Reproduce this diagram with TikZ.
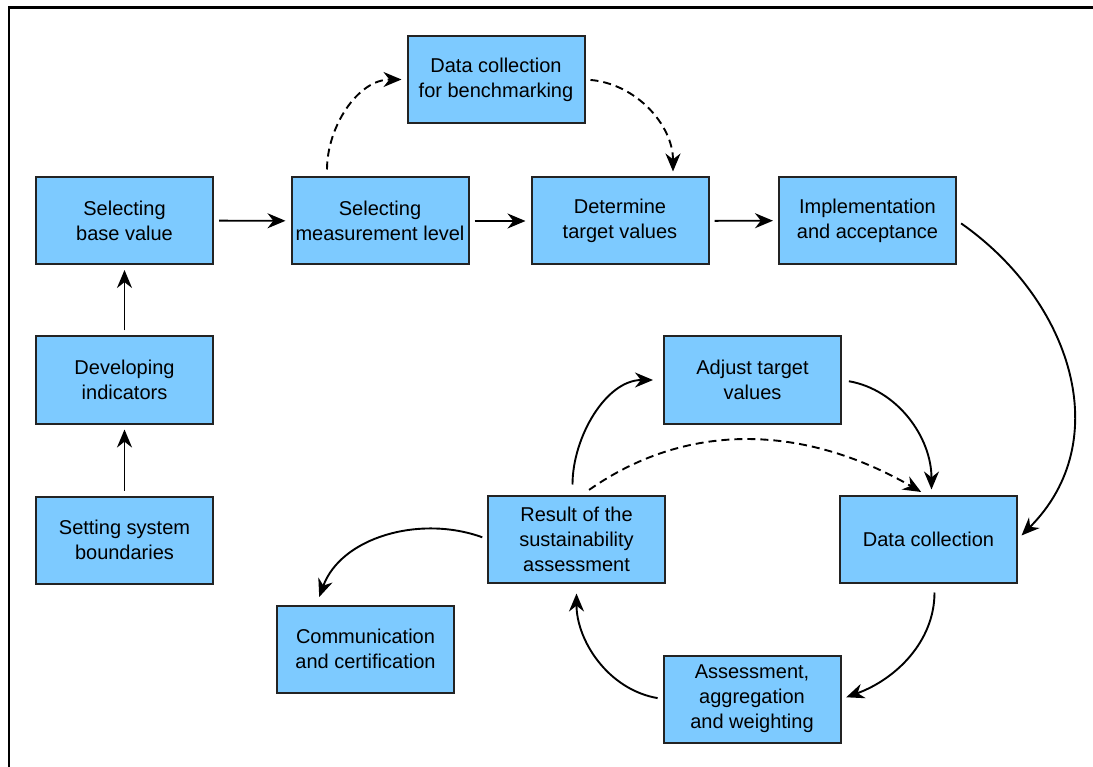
\documentclass[tikz,border=0pt]{standalone}
\usepackage{fontspec}
\setmainfont{Liberation Sans}
\usepackage{xcolor}
\definecolor{boxFill}{RGB}{125, 202, 255}
\definecolor{boxLine}{RGB}{35, 35, 35}
\usepackage{tikz}
\usetikzlibrary{
    arrows.meta,
    positioning
}

\begin{document}
\begin{tikzpicture}[
    x=1pt, y=-1pt,
    stepBox/.style={
        rectangle,
        draw=boxLine, line width=2pt,
        fill=boxFill, text=black,
        font=\fontsize{20}{25}\selectfont,
        align=center, inner sep=0pt,
        minimum width=177pt, minimum height=87pt
    },
    flowLine/.style={
        -{Stealth[length=18pt, width=15pt]}, line width=1.9pt, draw=black,
        shorten <=5pt, shorten >=5pt
    },
    dashLine/.style={
        flowLine, dash pattern=on 8pt off 5pt
    }
]

    \useasboundingbox (0,0) rectangle (1093,767);
    \draw[line width=2.2pt] (1093,7.5) -- (9,7.5) -- (9,767);

    % Nodes
    \node[stepBox] (base) at (124.5, 220.5) {Selecting\\base value};
    \node[stepBox] (measure) at (380, 221) {Selecting\\measurement level};
    \node[stepBox] (bench) at (496, 79.5) {Data collection\\for benchmarking};
    \node[stepBox] (target) at (620, 221) {Determine\\target values};
    \node[stepBox] (impl) at (867.5, 220.5) {Implementation\\and acceptance};

    \node[stepBox] (indic) at (124.5, 380) {Developing\\indicators};
    \node[stepBox] (bound) at (124.5, 540) {Setting system\\boundaries};

    \node[stepBox] (adjust) at (752.5, 380) {Adjust target\\values};
    \node[stepBox] (datacol) at (928.5, 539) {Data collection};
    \node[stepBox] (result) at (576.5, 539) {Result of the\\sustainability\\assessment};
    \node[stepBox] (comm) at (365.5, 649) {Communication\\and certification};
    \node[stepBox] (assess) at (752, 699) {Assessment,\\aggregation\\and weighting};

    % Connections
    \draw[flowLine] (bound) -- (indic);
    \draw[flowLine] (indic) -- (base);
    \draw[flowLine] (base) -- (measure);
    \draw[flowLine] (measure) -- (target);
    \draw[flowLine] (target) -- (impl);

    \draw[dashLine, shorten <=7pt] ([xshift=-53pt]measure.north) to[out=90, in=180] (bench.west);
    \draw[dashLine] (bench.east) to[out=-5, in=90] ([xshift=53pt]target.north);

    \draw[flowLine] (impl.east) to[out=-35, in=45, looseness=1.1] (datacol.east);
    \draw[flowLine, shorten <=7pt] (adjust.east) to[out=-10, in=90] ([xshift=3pt]datacol.north);

    \draw[flowLine, shorten <=10pt, shorten >=10pt] ([xshift=-4pt]result.north) to[out=90, in=180] (adjust.west);
    \draw[dashLine, shorten <=8pt] ([xshift=6pt]result.north) to[out=35, in=150] ([xshift=-3pt]datacol.north);

    \draw[flowLine, shorten <=9pt] ([xshift=6pt]datacol.south) to[out=-90, in=20] (assess.east);
    \draw[flowLine, shorten >=10pt] (assess.west) to[out=170, in=-90] (result.south);
    \draw[flowLine, shorten >=8pt] (result.west) to[out=160, in=70] ([xshift=-49pt]comm.north);

\end{tikzpicture}
\end{document}
